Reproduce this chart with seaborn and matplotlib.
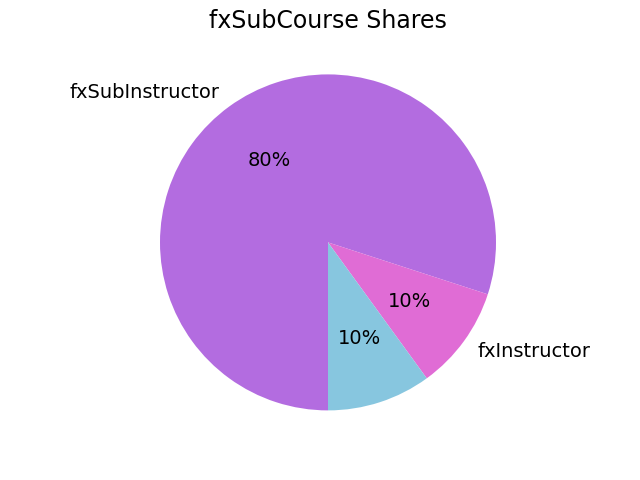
import matplotlib
matplotlib.use('Agg')
import seaborn as sns
import matplotlib.pyplot as plt

sns.set_theme(style='white')
plt.rcParams['font.family'] = ['DejaVu Sans']

labels = ['fxSubInstructor', 'fxInstructor', '']
shares = [80, 10, 10]
colors = ['#b36ce0', '#e06cd5', '#87c6df']

fig, ax = plt.subplots(figsize=(6.4, 4.8), dpi=100)
ax.pie(shares, labels=labels, colors=colors, autopct='%1.0f%%',
       startangle=270, counterclock=False,
       wedgeprops={'linewidth': 0, 'edgecolor': 'none'},
       textprops={'fontsize': 14, 'color': 'black'})
ax.set_title('fxSubCourse Shares', fontsize=17, color='black', pad=21)
ax.axis('equal')
plt.savefig('out.png', dpi=100)
